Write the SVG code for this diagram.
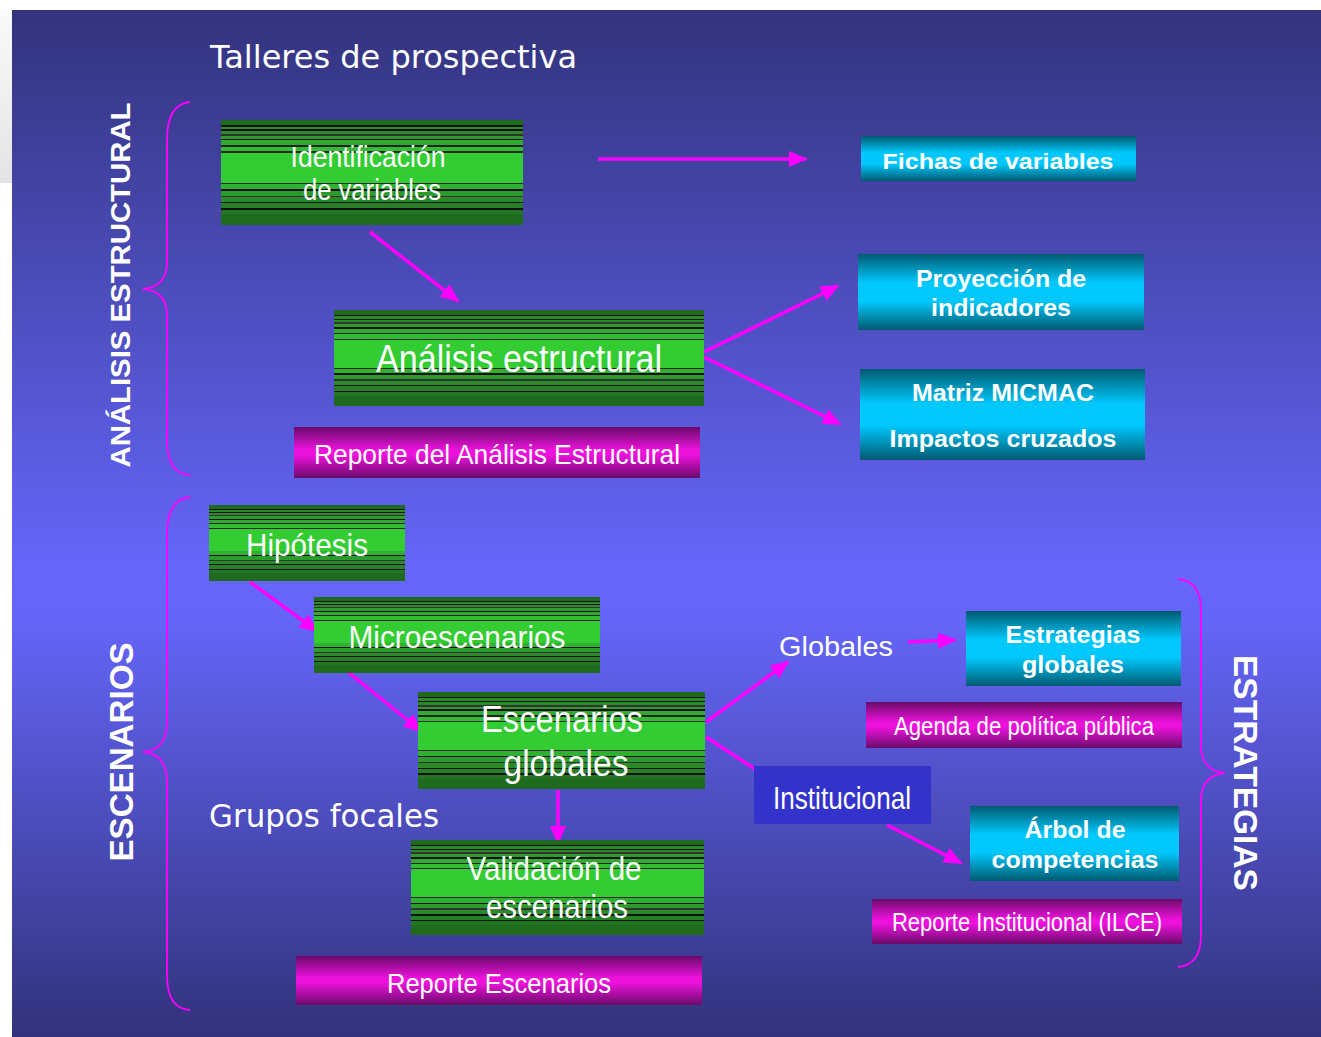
<svg xmlns="http://www.w3.org/2000/svg" width="1321" height="1037" viewBox="0 0 1321 1037">
<defs>
<linearGradient id="bg" gradientUnits="userSpaceOnUse" x1="0" y1="10" x2="0" y2="1037">
<stop offset="0" stop-color="#33337d"/>
<stop offset="0.55" stop-color="#6666fb"/>
<stop offset="0.6" stop-color="#6464f6"/>
<stop offset="1" stop-color="#32327c"/>
</linearGradient>
<linearGradient id="gray" x1="0" y1="0" x2="0" y2="1">
<stop offset="0" stop-color="#fafafa"/>
<stop offset="1" stop-color="#e4e4e4"/>
</linearGradient>
<linearGradient id="green" x1="0" y1="0" x2="0" y2="1">
<stop offset="0" stop-color="#1e6b1e"/>
<stop offset="0.05" stop-color="#1e6b1e"/>
<stop offset="0.05" stop-color="#111111"/>
<stop offset="0.065" stop-color="#111111"/>
<stop offset="0.065" stop-color="#2a8a2a"/>
<stop offset="0.09" stop-color="#2a8a2a"/>
<stop offset="0.09" stop-color="#111111"/>
<stop offset="0.105" stop-color="#111111"/>
<stop offset="0.105" stop-color="#2a8a2a"/>
<stop offset="0.13" stop-color="#2a8a2a"/>
<stop offset="0.13" stop-color="#333333"/>
<stop offset="0.15" stop-color="#333333"/>
<stop offset="0.15" stop-color="#2c9a2c"/>
<stop offset="0.18" stop-color="#2c9a2c"/>
<stop offset="0.18" stop-color="#111111"/>
<stop offset="0.195" stop-color="#111111"/>
<stop offset="0.195" stop-color="#30aa30"/>
<stop offset="0.24" stop-color="#30aa30"/>
<stop offset="0.24" stop-color="#222222"/>
<stop offset="0.255" stop-color="#222222"/>
<stop offset="0.255" stop-color="#33bb33"/>
<stop offset="0.3" stop-color="#33bb33"/>
<stop offset="0.3" stop-color="#2a2a2a"/>
<stop offset="0.31" stop-color="#2a2a2a"/>
<stop offset="0.31" stop-color="#33cc33"/>
<stop offset="0.6" stop-color="#33cc33"/>
<stop offset="0.6" stop-color="#2a2a2a"/>
<stop offset="0.61" stop-color="#2a2a2a"/>
<stop offset="0.61" stop-color="#30b030"/>
<stop offset="0.66" stop-color="#30b030"/>
<stop offset="0.66" stop-color="#111111"/>
<stop offset="0.675" stop-color="#111111"/>
<stop offset="0.675" stop-color="#2c9a2c"/>
<stop offset="0.72" stop-color="#2c9a2c"/>
<stop offset="0.72" stop-color="#333333"/>
<stop offset="0.735" stop-color="#333333"/>
<stop offset="0.735" stop-color="#2a8a2a"/>
<stop offset="0.78" stop-color="#2a8a2a"/>
<stop offset="0.78" stop-color="#111111"/>
<stop offset="0.795" stop-color="#111111"/>
<stop offset="0.795" stop-color="#268026"/>
<stop offset="0.84" stop-color="#268026"/>
<stop offset="0.84" stop-color="#111111"/>
<stop offset="0.855" stop-color="#111111"/>
<stop offset="0.855" stop-color="#237523"/>
<stop offset="0.9" stop-color="#237523"/>
<stop offset="0.9" stop-color="#1e6b1e"/>
<stop offset="1" stop-color="#1e6b1e"/>
</linearGradient>
<linearGradient id="cyan" x1="0" y1="0" x2="0" y2="1">
<stop offset="0" stop-color="#005a70"/>
<stop offset="0.38" stop-color="#00c8fc"/>
<stop offset="0.62" stop-color="#00c8fc"/>
<stop offset="1" stop-color="#005a70"/>
</linearGradient>
<linearGradient id="magenta" x1="0" y1="0" x2="0" y2="1">
<stop offset="0" stop-color="#6a0a6a"/>
<stop offset="0.45" stop-color="#ec12dc"/>
<stop offset="0.55" stop-color="#ec12dc"/>
<stop offset="1" stop-color="#6a0a6a"/>
</linearGradient>
<marker id="ah" markerUnits="userSpaceOnUse" markerWidth="20" markerHeight="18" refX="17" refY="8" orient="auto">
<path d="M0,0 L19,8 L0,16 Z" fill="#ff00ff"/>
</marker>
<style>
.green{fill:url(#green)}
.cyan{fill:url(#cyan)}
.mag{fill:url(#magenta)}
.cond{font-family:"Liberation Sans",Arial,sans-serif;fill:#ffffff;text-anchor:middle}
.bold{font-family:"Liberation Sans",Arial,sans-serif;font-weight:bold;fill:#ffffff;text-anchor:middle}
.tah{font-family:"DejaVu Sans",Verdana,sans-serif;fill:#ffffff}
.conn{stroke:#ff00ff;stroke-width:3.5;fill:none}
.brace{stroke:#ff00ff;stroke-width:1.8;fill:none}
</style>
</defs>

<rect x="0" y="0" width="1321" height="1037" fill="#ffffff"/>
<rect x="0" y="10" width="12" height="173" fill="url(#gray)"/>
<rect x="12" y="10" width="1309" height="1027" fill="url(#bg)"/>

<text class="tah" x="210" y="68" font-size="32" textLength="367" lengthAdjust="spacingAndGlyphs">Talleres de prospectiva</text>
<text class="tah" x="209" y="827" font-size="32" textLength="230" lengthAdjust="spacingAndGlyphs">Grupos focales</text>

<g id="braces">
<path class="brace" d="M190,102 Q167,104 167,140 L167,262 Q167,287 143,289 Q167,291 167,316 L167,440 Q167,474 190,475"/>
<path class="brace" d="M190,497 Q167,499 167,535 L167,722 Q167,750 143,752 Q167,754 167,782 L167,975 Q167,1009 190,1010"/>
<path class="brace" d="M1178,579 Q1201,581 1201,610 L1201,745 Q1201,771 1225,773 Q1201,775 1201,801 L1201,935 Q1201,965 1178,967"/>
</g>

<g id="side-labels">
<text class="bold" transform="translate(130,285) rotate(-90)" font-size="28" textLength="365" lengthAdjust="spacingAndGlyphs">ANÁLISIS ESTRUCTURAL</text>
<text class="bold" transform="translate(133,752) rotate(-90)" font-size="33" textLength="219" lengthAdjust="spacingAndGlyphs">ESCENARIOS</text>
<text class="bold" transform="translate(1234,773) rotate(90)" font-size="33" textLength="236" lengthAdjust="spacingAndGlyphs">ESTRATEGIAS</text>
</g>

<g id="connectors">
<line class="conn" x1="598" y1="159" x2="806" y2="159" marker-end="url(#ah)"/>
<line class="conn" x1="370" y1="232" x2="458" y2="301" marker-end="url(#ah)"/>
<line class="conn" x1="704" y1="352" x2="838" y2="286" marker-end="url(#ah)"/>
<line class="conn" x1="704" y1="357" x2="840" y2="424" marker-end="url(#ah)"/>
<line class="conn" x1="250" y1="582" x2="317" y2="631" marker-end="url(#ah)"/>
<line class="conn" x1="348" y1="672" x2="421" y2="731" marker-end="url(#ah)"/>
<line class="conn" x1="558" y1="790" x2="558" y2="843" marker-end="url(#ah)"/>
<line class="conn" x1="706" y1="722" x2="788" y2="662" marker-end="url(#ah)"/>
<line class="conn" x1="908" y1="642" x2="955" y2="640" marker-end="url(#ah)"/>
<line class="conn" x1="706" y1="737" x2="758" y2="771"/>
<line class="conn" x1="887" y1="825" x2="961" y2="863" marker-end="url(#ah)"/>
</g>

<g id="identificacion">
<rect class="green" x="221" y="120" width="302" height="105"/>
<text class="cond" x="368" y="167" font-size="29" textLength="155" lengthAdjust="spacingAndGlyphs">Identificación</text>
<text class="cond" x="372" y="200" font-size="29" textLength="138" lengthAdjust="spacingAndGlyphs">de variables</text>
</g>

<g id="fichas">
<rect class="cyan" x="861" y="136" width="275" height="45"/>
<text class="bold" x="998" y="169" font-size="22" textLength="231" lengthAdjust="spacingAndGlyphs">Fichas de variables</text>
</g>

<g id="analisis">
<rect class="green" x="334" y="310" width="370" height="96"/>
<text class="cond" x="519" y="372" font-size="38" textLength="286" lengthAdjust="spacingAndGlyphs">Análisis estructural</text>
</g>

<g id="proyeccion">
<rect class="cyan" x="858" y="254" width="286" height="76"/>
<text class="bold" x="1001" y="287" font-size="24" textLength="170" lengthAdjust="spacingAndGlyphs">Proyección de</text>
<text class="bold" x="1001" y="316" font-size="24" textLength="140" lengthAdjust="spacingAndGlyphs">indicadores</text>
</g>

<g id="micmac">
<rect class="cyan" x="860" y="369" width="285" height="91"/>
<text class="bold" x="1003" y="401" font-size="24" textLength="182" lengthAdjust="spacingAndGlyphs">Matriz MICMAC</text>
<text class="bold" x="1003" y="447" font-size="24" textLength="227" lengthAdjust="spacingAndGlyphs">Impactos cruzados</text>
</g>

<g id="reporte-analisis">
<rect class="mag" x="294" y="427" width="406" height="51"/>
<text class="cond" x="497" y="464" font-size="28" textLength="366" lengthAdjust="spacingAndGlyphs">Reporte del Análisis Estructural</text>
</g>

<g id="hipotesis">
<rect class="green" x="209" y="505" width="196" height="76"/>
<text class="cond" x="307" y="556" font-size="32" textLength="122" lengthAdjust="spacingAndGlyphs">Hipótesis</text>
</g>

<g id="microescenarios">
<rect class="green" x="314" y="597" width="286" height="76"/>
<text class="cond" x="457" y="648" font-size="32" textLength="217" lengthAdjust="spacingAndGlyphs">Microescenarios</text>
</g>

<g id="escenarios-globales">
<rect class="green" x="418" y="692" width="287" height="97"/>
<text class="cond" x="562" y="732" font-size="36" textLength="162" lengthAdjust="spacingAndGlyphs">Escenarios</text>
<text class="cond" x="566" y="776" font-size="36" textLength="125" lengthAdjust="spacingAndGlyphs">globales</text>
</g>

<g id="validacion">
<rect class="green" x="411" y="840" width="293" height="95"/>
<text class="cond" x="554" y="880" font-size="34" textLength="175" lengthAdjust="spacingAndGlyphs">Validación de</text>
<text class="cond" x="557" y="918" font-size="34" textLength="142" lengthAdjust="spacingAndGlyphs">escenarios</text>
</g>

<g id="reporte-escenarios">
<rect class="mag" x="296" y="956" width="406" height="49"/>
<text class="cond" x="499" y="993" font-size="28" textLength="224" lengthAdjust="spacingAndGlyphs">Reporte Escenarios</text>
</g>

<g id="globales">
<text class="cond" x="836" y="656" font-size="28" textLength="114" lengthAdjust="spacingAndGlyphs">Globales</text>
</g>

<g id="estrategias-globales">
<rect class="cyan" x="966" y="611" width="215" height="75"/>
<text class="bold" x="1073" y="643" font-size="24" textLength="135" lengthAdjust="spacingAndGlyphs">Estrategias</text>
<text class="bold" x="1073" y="673" font-size="24" textLength="102" lengthAdjust="spacingAndGlyphs">globales</text>
</g>

<g id="agenda">
<rect class="mag" x="866" y="702" width="316" height="46"/>
<text class="cond" x="1024" y="735" font-size="26" textLength="260" lengthAdjust="spacingAndGlyphs">Agenda de política pública</text>
</g>

<g id="institucional">
<rect x="754" y="766" width="177" height="58" fill="#3333cc"/>
<text class="cond" x="842" y="809" font-size="32" textLength="138" lengthAdjust="spacingAndGlyphs">Institucional</text>
</g>

<g id="arbol">
<rect class="cyan" x="970" y="806" width="209" height="75"/>
<text class="bold" x="1075" y="838" font-size="24" textLength="101" lengthAdjust="spacingAndGlyphs">Árbol de</text>
<text class="bold" x="1075" y="868" font-size="24" textLength="167" lengthAdjust="spacingAndGlyphs">competencias</text>
</g>

<g id="reporte-institucional">
<rect class="mag" x="872" y="899" width="310" height="45"/>
<text class="cond" x="1027" y="931" font-size="26" textLength="270" lengthAdjust="spacingAndGlyphs">Reporte Institucional (ILCE)</text>
</g>
</svg>
